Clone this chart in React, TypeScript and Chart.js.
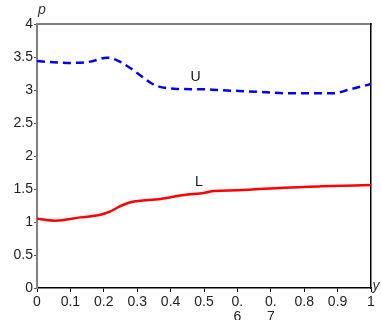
import React, { useEffect, useRef } from "react";
import { Chart, registerables } from "chart.js";

Chart.register(...registerables);

const uX = [0, 0.05, 0.1, 0.16, 0.21, 0.24, 0.28, 0.31, 0.34, 0.36, 0.41, 0.5, 0.54, 0.67, 0.75, 0.79, 0.89, 0.93, 1.0];
const uP = [3.44, 3.42, 3.41, 3.43, 3.49, 3.45, 3.33, 3.22, 3.11, 3.06, 3.02, 3.01, 3.0, 2.97, 2.95, 2.95, 2.95, 3.0, 3.09];
const lX = [0, 0.055, 0.13, 0.19, 0.22, 0.245, 0.28, 0.37, 0.44, 0.5, 0.53, 0.6, 0.74, 0.85, 1.0];
const lP = [1.05, 1.02, 1.07, 1.11, 1.16, 1.23, 1.3, 1.35, 1.41, 1.44, 1.47, 1.48, 1.52, 1.54, 1.56];
const xTicks = ["0", "0.1", "0.2", "0.3", "0.4", "0.5", "0.\n6", "0.\n7", "0.8", "0.9", "1"];
const yTicks = ["0", "0.5", "1", "1.5", "2", "2.5", "3", "3.5", "4"];
const curveLabels = [
  { text: "U", x: 0.475, y: 3.2 },
  { text: "L", x: 0.485, y: 1.6 },
];

const FONT = "'Liberation Sans', Arial, sans-serif";

const textPlugin = {
  id: "texts",
  afterDraw(chart: any) {
    const ctx = chart.ctx;
    const xs = chart.scales.x;
    const ys = chart.scales.y;
    ctx.save();
    ctx.fillStyle = "#111";
    ctx.textAlign = "center";
    ctx.textBaseline = "middle";
    ctx.font = `14px ${FONT}`;
    curveLabels.forEach((l) => {
      ctx.fillText(l.text, xs.getPixelForValue(l.x), ys.getPixelForValue(l.y));
    });
    ctx.font = `italic 14px ${FONT}`;
    ctx.fillStyle = "#333";
    ctx.fillText("p", chart.chartArea.left + 5, chart.chartArea.top - 14);
    ctx.fillText("y", chart.chartArea.right + 5, chart.chartArea.bottom - 2);
    ctx.restore();
  },
};

export default function App() {
  const ref = useRef<HTMLCanvasElement>(null);
  useEffect(() => {
    if (!ref.current) return;
    const chart = new Chart(ref.current, {
      type: "line",
      data: {
        datasets: [
          {
            data: uX.map((x, i) => ({ x, y: uP[i] })),
            borderColor: "#0000ff",
            borderWidth: 2.5,
            borderDash: [8, 5],
            pointRadius: 0,
            cubicInterpolationMode: "monotone",
            fill: false,
          },
          {
            data: lX.map((x, i) => ({ x, y: lP[i] })),
            borderColor: "#ff0000",
            borderWidth: 2.5,
            pointRadius: 0,
            cubicInterpolationMode: "monotone",
            fill: false,
          },
        ],
      },
      options: {
        animation: false,
        responsive: false,
        maintainAspectRatio: false,
        layout: { padding: 0 },
        plugins: { legend: { display: false }, tooltip: { enabled: false }, title: { display: false } },
        scales: {
          x: {
            type: "linear",
            position: "bottom",
            min: 0,
            max: 1,
            afterFit: (s: any) => { s.height = 32; },
            afterBuildTicks: (s: any) => { s.ticks = xTicks.map((_, i) => ({ value: i / 10 })); },
            ticks: {
              autoSkip: false,
              maxRotation: 0,
              minRotation: 0,
              padding: 2,
              color: "#222",
              font: { size: 14, family: FONT, lineHeight: 1.1 },
              callback: (_v: any, i: number) => xTicks[i].split("\n"),
            },
            grid: { display: true, drawOnChartArea: false, tickLength: 4, color: "#000" },
            border: { display: true, color: "#000", width: 1.5 },
          },
          x2: {
            type: "linear",
            position: "top",
            min: 0,
            max: 1,
            afterFit: (s: any) => { s.height = 24; },
            ticks: { display: false },
            grid: { display: false },
            border: { display: true, color: "#808080", width: 2 },
          },
          y: {
            type: "linear",
            position: "left",
            min: 0,
            max: 4,
            afterFit: (s: any) => { s.width = 37; },
            afterBuildTicks: (s: any) => { s.ticks = yTicks.map((t) => ({ value: parseFloat(t) })); },
            ticks: {
              autoSkip: false,
              padding: 1,
              color: "#222",
              font: { size: 14, family: FONT },
              callback: (_v: any, i: number) => yTicks[i],
            },
            grid: { display: true, drawOnChartArea: false, tickLength: 3, color: "#555" },
            border: { display: true, color: "#808080", width: 2 },
          },
          y2: {
            type: "linear",
            position: "right",
            min: 0,
            max: 4,
            afterFit: (s: any) => { s.width = 10; },
            ticks: { display: false },
            grid: { display: false },
            border: { display: true, color: "#000", width: 1.5 },
          },
        },
      } as any,
      plugins: [textPlugin],
    });
    return () => chart.destroy();
  }, []);
  return (
    <div style={{ position: "absolute", left: 0, top: 0, width: 381, height: 320, background: "#fff" }}>
      <canvas ref={ref} width={381} height={320} style={{ width: 381, height: 320 }} />
    </div>
  );
}
